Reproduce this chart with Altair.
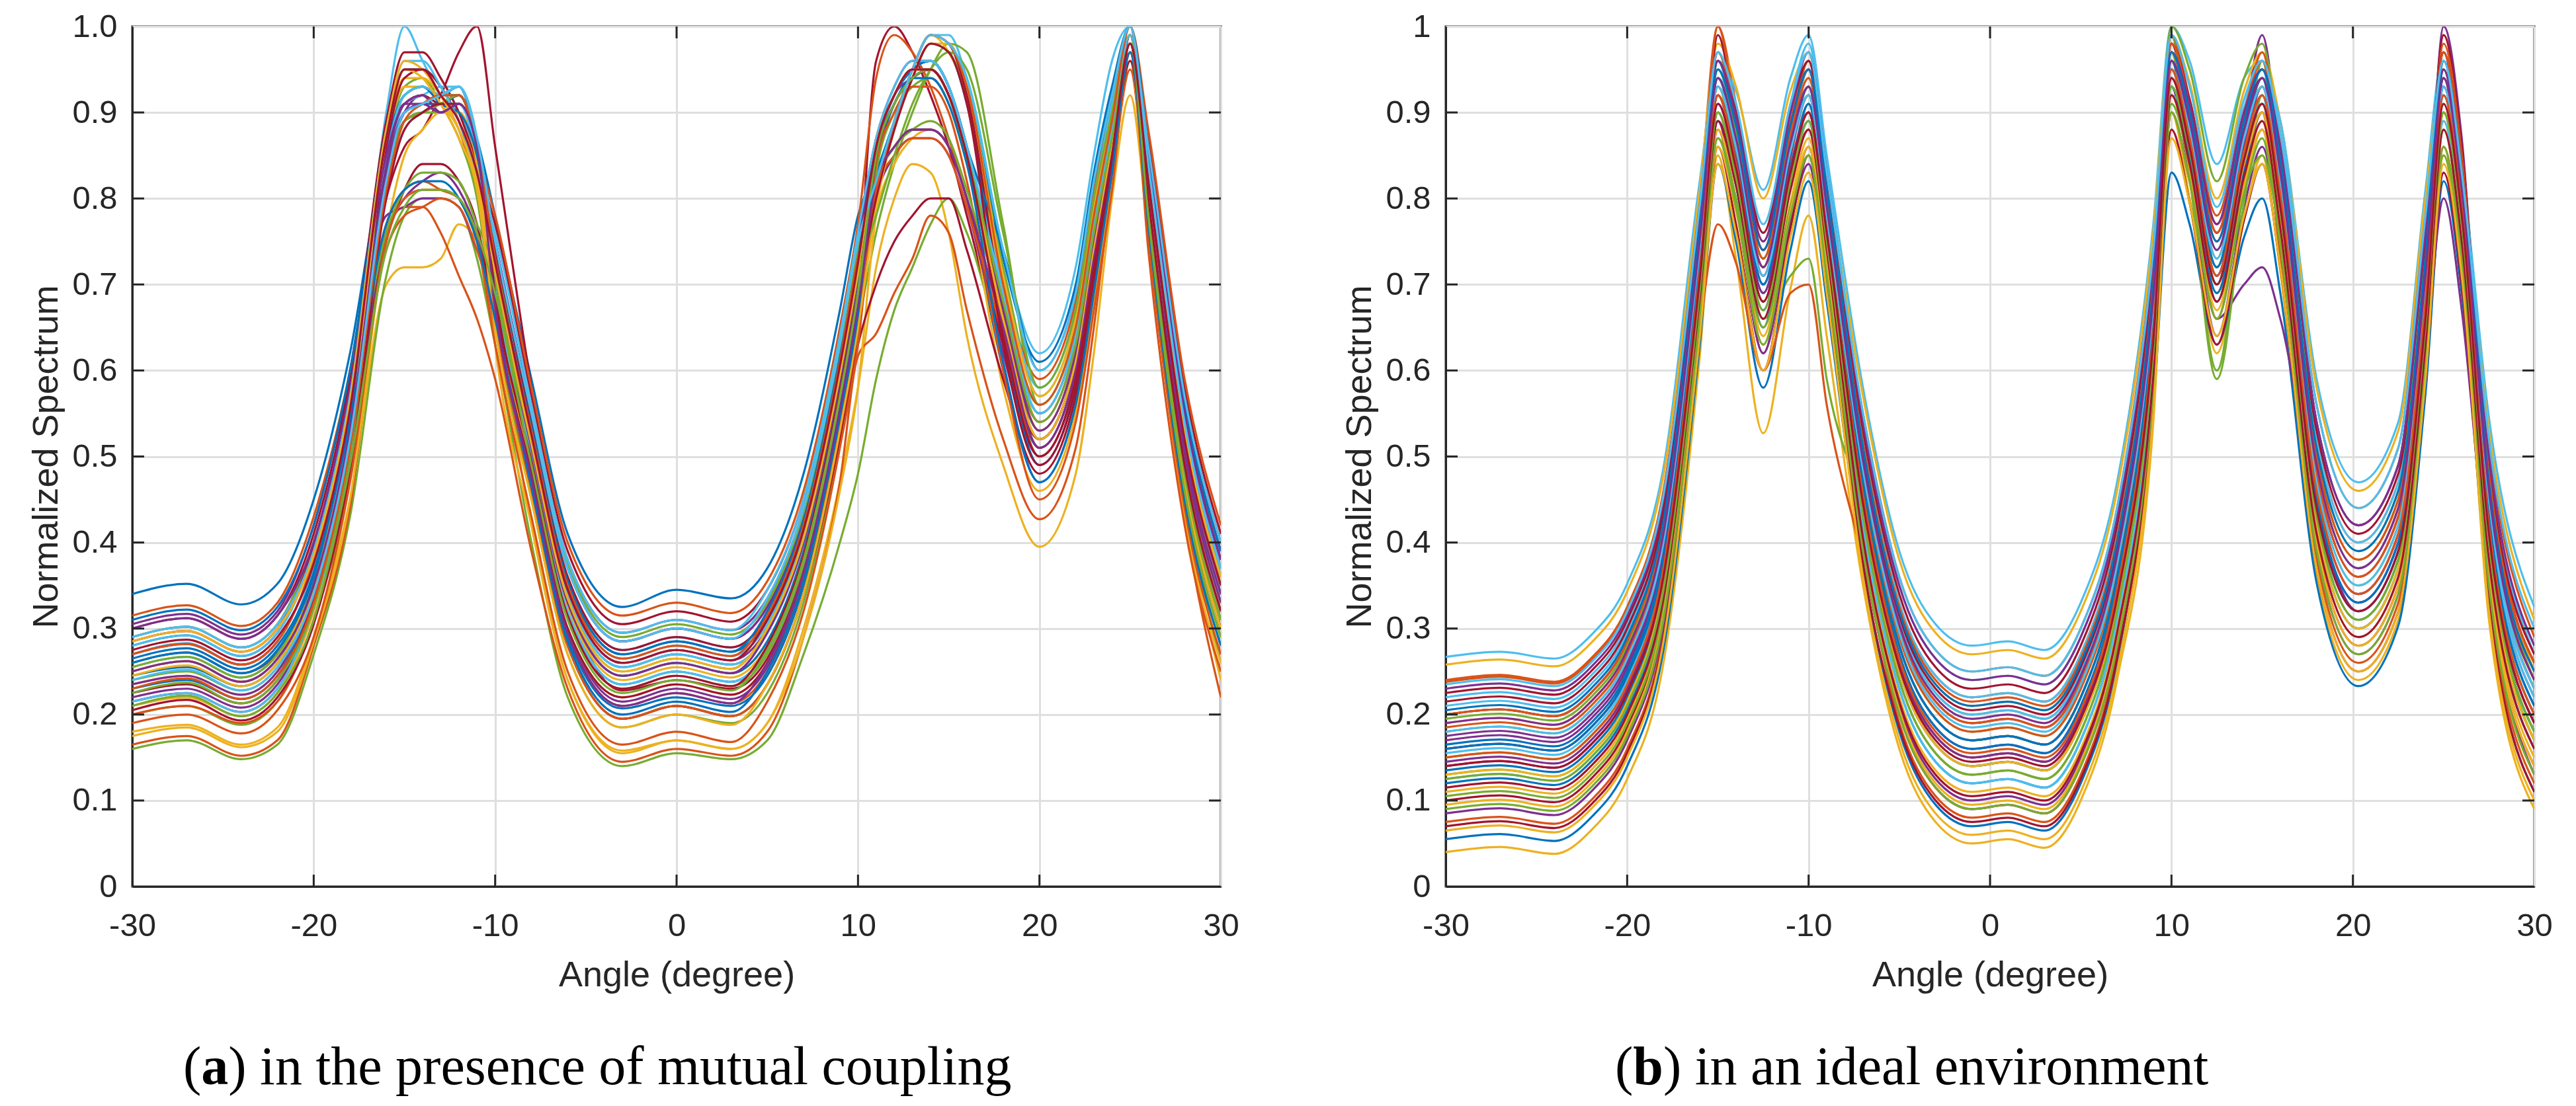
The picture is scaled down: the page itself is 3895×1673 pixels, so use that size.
import altair as alt
import pandas as pd

# ---------------- data ----------------
COLORS = ["#0072BD", "#D95319", "#EDB120", "#7E2F8E", "#77AC30", "#4DBEEE", "#A2142F"]

X_TICKS = [-30, -20, -10, 0, 10, 20, 30]
Y_TICKS = [0, 0.1, 0.2, 0.3, 0.4, 0.5, 0.6, 0.7, 0.8, 0.9, 1.0]
INNER_X = [-20, -10, 0, 10, 20]
INNER_Y = [0.1, 0.2, 0.3, 0.4, 0.5, 0.6, 0.7, 0.8, 0.9]

CAPTION_A = ["(", "a", ") in the presence of mutual coupling"]
CAPTION_B = ["(", "b", ") in an ideal environment"]

# panel (a): in the presence of mutual coupling
ANGLES_A = [-30, -27, -24, -22, -20, -18, -16, -15, -14, -13, -12, -11, -10,
            -8, -6, -3, 0, 3, 5, 7, 9, 10, 11, 12, 13, 14, 15, 16,
            18, 20, 22, 23, 24, 25, 26, 28, 30]
CURVES_A = [
    [.34,.352,.328,.352,.45,.62,  .86,.92,.93,.92,.93,.87,.78,  .59,.41,.325,.345,.335,.37,.48,.67,  .78,.83,.89,.95,.99,.98,.93,  .73,.61,.70,.83,.93,  1.0,.86,.57,.40],
    [.25,.262,.238,.265,.36,.53,  .87,.95,.95,.92,.88,.81,.71,  .52,.34,.255,.27,.258,.295,.40,.59,  .71,.85,.91,.94,.95,.92,.85,  .68,.55,.64,.77,.88,  .98,.81,.50,.33],
    [.18,.188,.165,.185,.29,.45,  .70,.72,.72,.73,.77,.75,.66,  .42,.24,.158,.17,.16,.19,.30,.47,  .58,.72,.80,.84,.83,.76,.64,  .49,.395,.48,.62,.80,  .92,.76,.44,.24],
    [.29,.302,.278,.305,.40,.57,  .84,.90,.92,.90,.90,.85,.75,  .55,.37,.285,.30,.288,.325,.43,.62,  .74,.86,.92,.95,.95,.92,.85,  .65,.52,.61,.74,.86,  .99,.83,.53,.36],
    [.16,.17,.148,.165,.27,.43,  .71,.78,.80,.80,.79,.73,.63,  .40,.22,.14,.155,.148,.17,.27,.40,  .48,.59,.67,.72,.77,.80,.76,  .62,.52,.61,.74,.85,  .97,.80,.46,.26],
    [.27,.283,.258,.285,.38,.56,  .90,1.0,.96,.92,.90,.84,.73,  .53,.35,.265,.28,.268,.305,.41,.60,  .72,.81,.89,.95,.99,.99,.94,  .74,.62,.72,.85,.96,  1.0,.85,.55,.38],
    [.26,.272,.248,.272,.37,.54,  .80,.86,.88,.92,.97,1.0,.86,  .58,.34,.228,.24,.23,.265,.37,.56,  .70,.96,1.0,.97,.92,.86,.78,  .62,.50,.59,.72,.85,  .98,.83,.53,.36],
    [.23,.24,.218,.245,.34,.51,  .82,.89,.90,.91,.91,.85,.67,  .47,.29,.207,.22,.21,.245,.35,.54,  .66,.82,.86,.88,.88,.86,.80,  .60,.47,.56,.69,.83,  .97,.78,.47,.30],
    [.165,.175,.152,.17,.28,.44,  .76,.79,.79,.76,.71,.66,.59,  .39,.23,.145,.16,.152,.18,.29,.47,  .617,.643,.69,.73,.78,.76,.67,  .52,.427,.51,.65,.82,  .95,.77,.43,.22],
    [.21,.22,.198,.225,.32,.49,  .81,.88,.90,.91,.91,.85,.71,  .51,.33,.245,.26,.248,.285,.39,.58,  .70,.85,.91,.94,.95,.92,.85,  .66,.53,.62,.75,.87,  .98,.79,.48,.31],
    [.305,.317,.293,.32,.42,.59,  .78,.79,.80,.80,.79,.74,.70,  .55,.38,.295,.31,.298,.335,.44,.63,  .75,.86,.92,.95,.96,.93,.86,  .64,.50,.59,.72,.85,  .99,.85,.55,.38],
    [.24,.25,.228,.255,.35,.52,  .82,.89,.90,.90,.91,.85,.66,  .46,.28,.195,.21,.198,.235,.34,.53,  .65,.76,.84,.90,.95,.98,.97,  .77,.56,.65,.78,.89,  .99,.76,.45,.28],
    [.255,.267,.243,.27,.365,.54,  .83,.91,.92,.93,.93,.87,.74,  .54,.36,.275,.29,.278,.315,.42,.61,  .73,.81,.89,.95,.99,.98,.93,  .71,.58,.67,.80,.91,  1.0,.82,.52,.35],
    [.30,.312,.288,.315,.41,.59,  .89,.97,.97,.94,.90,.84,.77,  .57,.39,.305,.32,.308,.345,.45,.64,  .76,.87,.93,.96,.96,.93,.86,  .68,.55,.64,.77,.88,  .99,.87,.58,.41],
    [.28,.292,.268,.295,.39,.57,  .88,.95,.95,.93,.89,.82,.71,  .51,.33,.245,.26,.248,.285,.39,.58,  .70,.84,.91,.94,.95,.92,.85,  .64,.51,.60,.73,.86,  .98,.82,.51,.34],
    [.315,.327,.303,.33,.43,.60,  .85,.91,.92,.90,.90,.85,.78,  .58,.40,.315,.33,.318,.355,.46,.65,  .77,.94,.99,.97,.93,.87,.80,  .69,.59,.68,.81,.92,  1.0,.88,.59,.42],
    [.175,.185,.162,.18,.285,.45,  .76,.85,.88,.90,.90,.84,.63,  .42,.24,.155,.17,.16,.19,.29,.46,  .58,.78,.84,.87,.88,.86,.80,  .58,.46,.55,.68,.82,  .96,.76,.43,.26],
    [.22,.23,.208,.235,.33,.50,  .76,.80,.82,.83,.81,.76,.67,  .48,.30,.215,.23,.218,.255,.36,.55,  .67,.80,.85,.87,.87,.85,.79,  .62,.49,.58,.71,.84,  .97,.80,.49,.32],
    [.20,.21,.188,.215,.31,.48,  .85,.93,.94,.91,.87,.80,.65,  .45,.27,.185,.20,.19,.225,.33,.52,  .64,.83,.90,.93,.94,.91,.84,  .66,.53,.62,.75,.87,  .98,.78,.46,.29],
    [.26,.272,.248,.275,.37,.55,  .84,.92,.93,.92,.92,.86,.72,  .52,.34,.255,.27,.258,.295,.40,.59,  .71,.86,.92,.95,.95,.92,.85,  .68,.56,.65,.78,.89,  .99,.80,.50,.33],
    [.215,.225,.203,.23,.325,.49,  .75,.81,.84,.84,.82,.77,.66,  .46,.28,.195,.21,.198,.235,.34,.52,  .63,.70,.75,.78,.80,.80,.74,  .59,.48,.57,.70,.83,  .96,.78,.47,.30],
    [.245,.255,.233,.26,.355,.53,  .83,.90,.91,.92,.92,.86,.70,  .50,.32,.235,.25,.238,.275,.38,.57,  .69,.80,.88,.94,.98,.97,.91,  .66,.50,.59,.72,.85,  .99,.82,.52,.35],
    [.20,.21,.19,.215,.31,.48,  .74,.78,.79,.80,.79,.74,.67,  .47,.295,.21,.225,.213,.25,.355,.54,  .66,.84,.90,.93,.93,.90,.82,  .60,.45,.54,.67,.81,  .97,.78,.47,.30],
    [.235,.245,.223,.25,.345,.52,  .86,.93,.93,.91,.88,.82,.68,  .48,.30,.22,.235,.223,.26,.365,.55,  .67,.80,.89,.95,.99,.97,.92,  .70,.54,.63,.76,.88,  .99,.80,.50,.33],
    [.27,.282,.258,.285,.38,.56,  .84,.91,.91,.90,.91,.86,.75,  .55,.37,.285,.30,.288,.325,.43,.62,  .74,.86,.92,.94,.95,.92,.85,  .66,.52,.61,.74,.86,  .99,.84,.54,.37],
    [.29,.302,.278,.305,.40,.57,  .85,.92,.93,.92,.92,.86,.70,  .50,.315,.23,.245,.233,.27,.375,.56,  .68,.80,.88,.94,.98,.97,.92,  .72,.57,.66,.79,.90,  .99,.79,.48,.31],
    [.215,.225,.203,.23,.325,.49,  .81,.88,.90,.91,.91,.85,.72,  .52,.34,.255,.27,.258,.295,.40,.59,  .71,.85,.92,.95,.96,.93,.86,  .68,.55,.64,.77,.88,  .99,.81,.51,.34],
    [.285,.297,.273,.30,.395,.57,  .85,.91,.92,.91,.92,.86,.68,  .48,.30,.22,.235,.223,.26,.365,.55,  .67,.82,.86,.88,.88,.86,.80,  .63,.52,.61,.74,.86,  .98,.84,.55,.38],
    [.31,.322,.298,.325,.42,.60,  .86,.92,.93,.91,.90,.85,.73,  .53,.355,.27,.285,.273,.31,.415,.60,  .72,.86,.92,.95,.96,.93,.86,  .64,.49,.58,.71,.84,  .98,.84,.54,.37],
    [.27,.282,.258,.285,.38,.56,  .77,.81,.82,.81,.80,.75,.65,  .46,.28,.195,.21,.198,.235,.34,.53,  .65,.85,.91,.94,.95,.92,.85,  .65,.51,.60,.73,.86,  .98,.76,.44,.27],
    [.25,.262,.238,.265,.36,.53,  .87,.94,.94,.92,.89,.83,.70,  .50,.325,.24,.255,.243,.28,.385,.57,  .69,.81,.89,.95,.99,.98,.92,  .69,.53,.62,.75,.87,  .99,.82,.52,.35],
    [.235,.245,.223,.25,.345,.52,  .82,.89,.90,.91,.92,.86,.72,  .52,.345,.26,.275,.263,.30,.405,.59,  .71,.85,.91,.94,.95,.92,.85,  .67,.54,.63,.76,.87,  .98,.80,.50,.33],
    [.255,.267,.243,.27,.365,.54,  .76,.81,.83,.83,.82,.77,.72,  .55,.375,.29,.305,.293,.33,.435,.62,  .74,.82,.86,.88,.89,.87,.81,  .67,.56,.65,.78,.89,  .99,.79,.49,.32],
    [.28,.292,.268,.295,.39,.57,  .85,.92,.93,.92,.93,.87,.70,  .50,.32,.235,.25,.238,.275,.38,.57,  .69,.86,.92,.95,.96,.93,.86,  .70,.58,.67,.80,.91,  1.0,.83,.53,.36],
    [.225,.235,.213,.24,.335,.51,  .86,.94,.95,.93,.89,.83,.74,  .54,.36,.275,.29,.278,.315,.42,.61,  .73,.81,.89,.95,.99,.98,.92,  .67,.51,.60,.73,.85,  .99,.85,.56,.39],
    [.265,.277,.253,.28,.365,.545,  .83,.90,.91,.91,.92,.86,.73,  .535,.355,.27,.285,.273,.32,.425,.615,  .73,.86,.92,.95,.96,.93,.86,  .74,.60,.69,.82,.92,  1.0,.86,.56,.39],
    [.19,.20,.178,.205,.29,.47,  .75,.80,.81,.81,.80,.75,.63,  .43,.25,.165,.18,.168,.215,.32,.51,  .63,.81,.85,.87,.87,.85,.79,  .64,.50,.59,.72,.85,  .97,.74,.42,.25],
    [.245,.257,.233,.26,.345,.525,  .87,.95,.94,.91,.87,.81,.65,  .45,.27,.185,.20,.188,.235,.34,.53,  .65,.79,.88,.94,.98,.98,.93,  .71,.57,.66,.79,.90,  .99,.78,.47,.30],
    [.30,.312,.288,.315,.40,.58,  .85,.91,.92,.90,.91,.86,.71,  .51,.33,.245,.26,.248,.295,.40,.59,  .71,.86,.92,.95,.95,.92,.85,  .67,.53,.62,.75,.87,  .98,.85,.55,.38],
    [.225,.237,.213,.24,.325,.505,  .81,.89,.90,.91,.92,.86,.71,  .515,.335,.25,.265,.253,.30,.405,.595,  .71,.78,.85,.91,.95,.97,.95,  .76,.58,.67,.80,.90,  .99,.79,.48,.31],
    [.29,.302,.278,.305,.39,.57,  .88,.96,.96,.93,.89,.83,.76,  .56,.38,.295,.31,.298,.345,.45,.64,  .76,.87,.93,.96,.96,.93,.86,  .69,.55,.64,.77,.88,  .99,.86,.57,.40],
    [.205,.217,.193,.22,.305,.485,  .80,.88,.90,.91,.91,.86,.69,  .495,.315,.23,.245,.233,.28,.385,.575,  .69,.80,.88,.94,.98,.97,.91,  .63,.49,.58,.71,.84,  .98,.80,.49,.32],
    [.26,.272,.248,.275,.36,.54,  .77,.81,.82,.82,.80,.75,.66,  .465,.285,.20,.215,.203,.25,.355,.545,  .665,.85,.91,.94,.94,.91,.84,  .61,.47,.56,.69,.83,  .97,.77,.45,.28],
    [.23,.242,.218,.245,.33,.51,  .81,.89,.91,.92,.92,.86,.73,  .53,.35,.265,.28,.268,.315,.42,.61,  .73,.81,.89,.95,.99,.98,.93,  .70,.56,.65,.78,.89,  1.0,.82,.52,.35],
    [.285,.297,.273,.30,.385,.565,  .88,.96,.95,.92,.88,.82,.715,  .515,.335,.25,.265,.253,.30,.405,.595,  .715,.86,.92,.95,.95,.92,.85,  .66,.52,.61,.74,.86,  .98,.83,.53,.36],
    [.25,.262,.238,.265,.35,.53,  .83,.90,.91,.90,.91,.86,.675,  .475,.295,.21,.225,.213,.26,.365,.555,  .675,.82,.86,.88,.88,.86,.80,  .65,.51,.60,.73,.85,  .98,.82,.51,.34],
    [.21,.222,.198,.225,.31,.49,  .74,.79,.81,.81,.80,.76,.69,  .49,.31,.225,.24,.228,.275,.38,.57,  .69,.85,.91,.94,.95,.92,.85,  .68,.54,.63,.76,.87,  .98,.78,.46,.29],
    [.24,.252,.228,.255,.34,.52,  .82,.90,.91,.92,.93,.87,.75,  .55,.37,.285,.30,.288,.335,.44,.63,  .75,.82,.89,.95,.99,.98,.94,  .74,.60,.69,.82,.92,  1.0,.84,.54,.37],
    [.275,.287,.263,.29,.375,.555,  .87,.95,.95,.92,.89,.83,.725,  .525,.345,.26,.275,.263,.31,.415,.605,  .725,.86,.92,.95,.95,.92,.85,  .64,.50,.59,.72,.85,  .98,.82,.52,.35],
]

# panel (b): in an ideal environment
ANGLES_B = [-30, -27, -24, -22, -20, -18, -16, -15, -14, -12.5, -11, -10, -9,
            -7, -5, -3, -1, 1, 3, 5, 7, 9, 10, 11, 12.5, 14, 15, 16,
            18, 20.3, 22.5, 24, 25, 26, 27.5, 30]
CURVES_B = [
    [.20,.206,.198,.225,.285,.42,  .76,.93,.855,.70,.84,.90,.76,  .47,.28,.195,.17,.175,.165,.22,.36,.66,  .95,.875,.72,.86,.92,.785,  .42,.30,.37,.64,  .92,.79,.39,.17],
    [.24,.246,.238,.265,.325,.46,  .80,1.0,.91,.74,.875,.93,.79,  .52,.33,.245,.22,.225,.215,.27,.41,.71,  .99,.915,.76,.895,.95,.875,  .52,.40,.47,.74,  .99,.86,.48,.26],
    [.04,.046,.038,.065,.125,.26,  .616,.85,.73,.527,.695,.78,.64,  .35,.16,.075,.05,.055,.045,.10,.24,.54,  .90,.80,.62,.775,.85,.715,  .36,.24,.31,.58,  .85,.72,.31,.09],
    [.17,.176,.168,.195,.255,.39,  .733,.96,.88,.72,.875,.95,.81,  .49,.30,.215,.19,.195,.185,.24,.38,.68,  .92,.85,.70,.885,.99,.84,  .46,.34,.41,.68,  1.0,.87,.42,.20],
    [.13,.136,.128,.155,.215,.35,  .697,.90,.82,.66,.71,.73,.59,  .44,.25,.165,.14,.145,.135,.19,.33,.63,  .97,.825,.60,.82,.96,.805,  .42,.30,.37,.64,  .88,.75,.40,.18],
    [.267,.273,.265,.292,.352,.487,  .82,.96,.925,.81,.94,.99,.85,  .58,.39,.305,.28,.285,.275,.33,.47,.77,  1.0,.96,.84,.94,.96,.89,  .59,.47,.54,.81,  .97,.84,.545,.325],
    [.10,.106,.098,.125,.185,.32,  .67,.88,.79,.62,.78,.86,.72,  .39,.20,.115,.09,.095,.085,.14,.28,.58,  .90,.82,.66,.81,.88,.755,  .40,.28,.35,.62,  .86,.73,.36,.14],
    [.055,.061,.053,.08,.14,.275,  .63,.84,.75,.58,.74,.82,.68,  .37,.18,.095,.07,.075,.065,.12,.26,.56,  .83,.77,.63,.755,.80,.69,  .353,.233,.303,.573,  .82,.69,.33,.11],
    [.075,.081,.073,.10,.16,.295,  .648,.77,.725,.60,.69,.70,.56,  .38,.19,.105,.08,.085,.075,.13,.27,.57,  .95,.855,.68,.83,.90,.73,  .38,.26,.33,.60,  .90,.77,.34,.12],
    [.258,.264,.256,.283,.343,.478,  .81,.98,.93,.80,.925,.97,.83,  .57,.38,.295,.27,.275,.265,.32,.46,.76,  .99,.935,.80,.925,.97,.89,  .58,.46,.53,.80,  .95,.82,.53,.31],
    [.14,.146,.138,.165,.225,.36,  .706,.92,.84,.68,.82,.88,.74,  .46,.27,.185,.16,.165,.155,.21,.35,.65,  .96,.85,.66,.70,.72,.66,  .44,.32,.39,.66,  .96,.83,.41,.19],
    [.18,.186,.178,.205,.265,.40,  .742,.95,.875,.72,.88,.96,.82,  .50,.31,.225,.20,.205,.195,.25,.39,.69,  1.0,.95,.82,.94,.98,.85,  .50,.38,.45,.72,  .90,.77,.46,.24],
    [.22,.226,.218,.245,.305,.44,  .778,.94,.89,.76,.91,.98,.84,  .54,.35,.265,.24,.245,.235,.29,.43,.73,  .93,.865,.72,.87,.94,.89,  .54,.42,.49,.76,  .92,.79,.49,.27],
    [.16,.166,.158,.185,.245,.38,  .724,.99,.885,.70,.85,.92,.78,  .45,.26,.175,.15,.155,.145,.20,.34,.64,  .98,.88,.70,.855,.93,.815,  .48,.36,.43,.70,  .99,.86,.44,.22],
    [.12,.126,.118,.145,.205,.34,  .688,.90,.815,.65,.82,.91,.77,  .42,.23,.145,.12,.125,.115,.17,.31,.61,  .96,.86,.68,.83,.90,.78,  .43,.31,.38,.65,  .94,.81,.38,.16],
    [.238,.244,.236,.263,.323,.458,  .794,.97,.90,.75,.89,.95,.81,  .55,.36,.275,.25,.255,.245,.30,.44,.74,  .97,.915,.78,.905,.95,.87,  .56,.44,.51,.78,  .94,.81,.51,.29],
    [.19,.196,.188,.215,.275,.41,  .751,.92,.865,.73,.875,.94,.80,  .51,.32,.235,.21,.215,.205,.26,.40,.70,  .95,.89,.75,.88,.93,.83,  .50,.38,.45,.72,  .89,.76,.47,.25],
    [.085,.091,.083,.11,.17,.305,  .657,.89,.795,.62,.77,.84,.70,  .40,.21,.125,.10,.105,.095,.15,.29,.59,  .93,.825,.64,.79,.86,.75,  .39,.27,.34,.61,  .80,.67,.35,.13],
    [.15,.156,.148,.175,.235,.37,  .715,.93,.85,.69,.835,.90,.76,  .48,.29,.205,.18,.185,.175,.23,.37,.67,  .99,.83,.59,.795,.92,.81,  .47,.35,.42,.69,  .93,.80,.42,.20],
    [.21,.216,.208,.235,.295,.43,  .769,.95,.88,.73,.87,.93,.79,  .52,.33,.245,.22,.225,.215,.27,.41,.71,  .92,.885,.77,.905,.96,.855,  .52,.40,.47,.74,  .96,.83,.50,.28],
    [.07,.076,.068,.095,.155,.29,  .643,.86,.77,.60,.765,.85,.71,  .375,.185,.10,.075,.08,.07,.125,.265,.565,  .88,.795,.63,.775,.84,.72,  .37,.25,.32,.59,  .83,.70,.33,.11],
    [.165,.171,.163,.19,.25,.385,  .729,.91,.84,.69,.83,.89,.75,  .46,.27,.185,.16,.165,.155,.21,.35,.65,  .94,.865,.71,.85,.91,.80,  .45,.33,.40,.67,  .93,.80,.43,.21],
    [.20,.206,.198,.225,.285,.42,  .76,1.0,.895,.71,.875,.96,.82,  .49,.30,.215,.19,.195,.185,.24,.38,.68,  .97,.89,.73,.89,.97,.845,  .49,.37,.44,.71,  .98,.85,.46,.24],
    [.11,.116,.108,.135,.195,.33,  .679,.88,.80,.64,.795,.87,.73,  .41,.22,.135,.11,.115,.105,.16,.30,.60,  .92,.835,.67,.82,.89,.765,  .41,.29,.36,.63,  .88,.75,.37,.15],
    [.175,.181,.173,.20,.26,.395,  .738,.94,.865,.71,.855,.92,.78,  .47,.28,.195,.17,.175,.165,.22,.36,.66,  .95,.87,.71,.86,.93,.81,  .46,.34,.41,.68,  .94,.81,.45,.23],
    [.105,.111,.103,.13,.19,.325,  .675,.87,.80,.65,.79,.85,.71,  .43,.24,.155,.13,.135,.125,.18,.32,.62,  .91,.84,.69,.81,.85,.755,  .43,.31,.38,.65,  .85,.72,.39,.17],
    [.155,.161,.153,.18,.24,.375,  .72,.96,.87,.70,.865,.95,.81,  .50,.31,.225,.20,.205,.195,.25,.39,.69,  .96,.89,.74,.885,.95,.835,  .49,.37,.44,.71,  .92,.79,.44,.22],
    [.225,.231,.223,.25,.31,.445,  .783,.97,.905,.76,.90,.96,.82,  .53,.34,.255,.23,.235,.225,.28,.42,.72,  .98,.91,.76,.89,.94,.85,  .53,.41,.48,.75,  .97,.84,.49,.27],
    [.135,.141,.133,.16,.22,.355,  .702,.89,.82,.67,.83,.91,.77,  .44,.25,.165,.14,.145,.135,.19,.33,.63,  .93,.85,.69,.84,.91,.79,  .44,.32,.39,.66,  .90,.77,.40,.18],
    [.185,.191,.183,.21,.27,.405,  .747,.93,.865,.72,.87,.94,.80,  .48,.29,.205,.18,.185,.175,.23,.37,.67,  .99,.91,.75,.895,.96,.84,  .48,.36,.43,.70,  .95,.82,.47,.25],
    [.095,.101,.093,.12,.18,.315,  .666,.86,.785,.63,.785,.86,.72,  .395,.205,.12,.095,.10,.09,.145,.285,.585,  .90,.82,.66,.81,.88,.755,  .40,.28,.35,.62,  .86,.73,.36,.14],
    [.145,.151,.143,.17,.23,.365,  .71,.92,.845,.69,.835,.90,.76,  .45,.26,.175,.15,.155,.145,.20,.34,.64,  .94,.86,.70,.84,.90,.79,  .45,.33,.40,.67,  .93,.80,.41,.19],
    [.195,.201,.193,.22,.28,.415,  .756,.95,.88,.73,.865,.92,.78,  .47,.28,.195,.17,.175,.165,.22,.36,.66,  .96,.88,.72,.87,.94,.855,  .51,.39,.46,.73,  .91,.78,.45,.23],
    [.125,.131,.123,.15,.21,.345,  .693,.90,.82,.66,.815,.89,.75,  .42,.23,.145,.12,.125,.115,.17,.31,.61,  .95,.865,.70,.85,.92,.785,  .42,.30,.37,.64,  .89,.76,.42,.20],
    [.215,.221,.213,.24,.30,.435,  .774,.96,.89,.74,.885,.95,.81,  .505,.315,.23,.205,.21,.20,.255,.395,.695,  .98,.915,.77,.90,.95,.86,  .54,.42,.49,.76,  .97,.84,.48,.26],
    [.16,.166,.158,.185,.245,.38,  .724,.94,.86,.70,.855,.93,.79,  .47,.28,.195,.17,.175,.165,.22,.36,.66,  .96,.88,.72,.87,.94,.81,  .45,.33,.40,.67,  .95,.82,.43,.21],
    [.20,.206,.198,.225,.285,.42,  .76,.97,.89,.73,.88,.95,.81,  .515,.325,.24,.215,.22,.21,.265,.405,.705,  .98,.91,.76,.90,.96,.845,  .50,.38,.45,.72,  .97,.84,.48,.26],
    [.13,.136,.128,.155,.215,.35,  .697,.90,.82,.66,.81,.88,.74,  .44,.25,.165,.14,.145,.135,.19,.33,.63,  .94,.86,.70,.84,.90,.775,  .42,.30,.37,.64,  .90,.77,.39,.17],
    [.23,.236,.228,.255,.315,.45,  .787,.96,.895,.75,.90,.97,.83,  .54,.35,.265,.24,.245,.235,.29,.43,.73,  .97,.91,.77,.90,.95,.86,  .54,.42,.49,.76,  .95,.82,.50,.28],
    [.09,.096,.088,.115,.175,.31,  .661,.87,.79,.63,.78,.85,.71,  .39,.20,.115,.09,.095,.085,.14,.28,.58,  .90,.82,.66,.805,.87,.745,  .39,.27,.34,.61,  .86,.73,.35,.13],
    [.18,.186,.178,.205,.265,.40,  .742,.93,.86,.71,.855,.92,.78,  .485,.295,.21,.185,.19,.18,.235,.375,.675,  .95,.88,.73,.87,.93,.815,  .47,.35,.42,.69,  .93,.80,.45,.23],
    [.115,.121,.113,.14,.20,.335,  .684,.89,.815,.66,.81,.88,.74,  .405,.215,.13,.105,.11,.10,.155,.295,.595,  .92,.84,.68,.825,.89,.765,  .41,.29,.36,.63,  .88,.75,.38,.16],
    [.205,.211,.203,.23,.29,.425,  .765,.95,.885,.74,.885,.95,.81,  .51,.32,.235,.21,.215,.205,.26,.40,.70,  .97,.90,.75,.89,.95,.845,  .51,.39,.46,.73,  .96,.83,.47,.25],
    [.15,.156,.148,.175,.235,.37,  .715,.92,.84,.68,.83,.90,.76,  .455,.265,.18,.155,.16,.15,.205,.345,.645,  .95,.87,.71,.855,.92,.805,  .46,.34,.41,.68,  .92,.79,.42,.20],
    [.065,.071,.063,.09,.15,.285,  .639,.84,.76,.60,.755,.83,.69,  .36,.17,.085,.06,.065,.055,.11,.25,.55,  .87,.795,.64,.78,.84,.72,  .37,.25,.32,.59,  .84,.71,.32,.10],
    [.19,.196,.188,.215,.275,.41,  .751,.94,.87,.72,.865,.93,.79,  .495,.305,.22,.195,.20,.19,.245,.385,.685,  .96,.89,.74,.88,.94,.83,  .49,.37,.44,.71,  .94,.81,.46,.24],
    [.125,.131,.123,.15,.21,.345,  .693,.90,.825,.67,.82,.89,.75,  .43,.24,.155,.13,.135,.125,.18,.32,.62,  .93,.855,.70,.845,.91,.785,  .43,.31,.38,.65,  .90,.77,.40,.18],
    [.235,.241,.233,.26,.32,.455,  .792,.97,.91,.77,.91,.97,.83,  .55,.36,.275,.25,.255,.245,.30,.44,.74,  .99,.93,.79,.915,.96,.875,  .56,.44,.51,.78,  .96,.83,.52,.30],
    [.14,.146,.138,.165,.225,.36,  .706,.91,.835,.68,.83,.90,.76,  .445,.255,.17,.145,.15,.14,.195,.335,.635,  .94,.86,.70,.845,.91,.79,  .44,.32,.39,.66,  .91,.78,.41,.19],
]

# ---------------- layout constants ----------------
W, H = 1646, 1301
AXIS_COLOR = "#262626"
GRID_COLOR = "#DFDFDF"
TICK_LEN = 18


def to_long(angles, curves, tag):
    rows = []
    for i, curve in enumerate(curves):
        assert len(curve) == len(angles), f"{tag} row {i}: {len(curve)} vs {len(angles)}"
        for a, v in zip(angles, curve):
            rows.append({"curve": f"c{i:02d}", "angle": a, "value": v})
    return pd.DataFrame(rows)


def make_panel(angles, curves, tag, y_label_expr, caption, cap_x):
    df = to_long(angles, curves, tag)
    xs = alt.Scale(domain=[-30, 30], nice=False, zero=False)
    ys = alt.Scale(domain=[0, 1], nice=False, zero=False)

    x_axis = alt.Axis(values=X_TICKS, title="Angle (degree)", labelExpr="'' + datum.value",
                      grid=True, ticks=False, labelPadding=35, labelFlush=False,
                      titleX=W / 2, titleY=150, titleBaseline="alphabetic", titleAlign="center")
    y_axis = alt.Axis(values=Y_TICKS, title="Normalized Spectrum", labelExpr=y_label_expr,
                      grid=True, ticks=False, labelPadding=23, labelFlush=False,
                      titleX=-114, titleY=H / 2, titleAngle=270,
                      titleBaseline="alphabetic", titleAlign="center")

    lines = alt.Chart(df).mark_line(strokeWidth=3.2, interpolate="monotone", clip=True).encode(
        x=alt.X("angle:Q", scale=xs, axis=x_axis),
        y=alt.Y("value:Q", scale=ys, axis=y_axis),
        color=alt.Color("curve:N", scale=alt.Scale(range=COLORS), legend=None),
    )

    # inward tick marks on all four sides (same field names and axes as the lines)
    xt = pd.DataFrame({"angle": INNER_X})
    yt = pd.DataFrame({"value": INNER_Y})
    rule = dict(color=AXIS_COLOR, strokeWidth=3)
    bottom_t = alt.Chart(xt).mark_rule(**rule).encode(
        x=alt.X("angle:Q", scale=xs, axis=x_axis), y=alt.value(H), y2=alt.value(H - TICK_LEN))
    top_t = alt.Chart(xt).mark_rule(**rule).encode(
        x=alt.X("angle:Q", scale=xs, axis=x_axis), y=alt.value(0), y2=alt.value(TICK_LEN))
    left_t = alt.Chart(yt).mark_rule(**rule).encode(
        y=alt.Y("value:Q", scale=ys, axis=y_axis), x=alt.value(0), x2=alt.value(TICK_LEN))
    right_t = alt.Chart(yt).mark_rule(**rule).encode(
        y=alt.Y("value:Q", scale=ys, axis=y_axis), x=alt.value(W - TICK_LEN), x2=alt.value(W))

    # caption: "(" + bold letter + rest, laid out left to right
    cap_y = 1600
    fs = 82
    paren_w = 0.333 * fs
    bold_w = (0.5 if caption[1] == "a" else 0.556) * fs
    parts = [(caption[0], cap_x, "normal"),
             (caption[1], cap_x + paren_w, "bold"),
             (caption[2], cap_x + paren_w + bold_w, "normal")]
    cap_layers = []
    for txt, px, weight in parts:
        cap_layers.append(
            alt.Chart(pd.DataFrame({"t": [txt]})).mark_text(
                align="left", baseline="alphabetic", font="Liberation Serif",
                fontSize=fs, fontWeight=weight, color="#000000"
            ).encode(x=alt.value(px), y=alt.value(cap_y), text="t:N")
        )

    return alt.layer(lines, bottom_t, top_t, left_t, right_t, *cap_layers).properties(
        width=W, height=H)


panel_a = make_panel(ANGLES_A, CURVES_A, "A",
                     "datum.value == 1 ? '1.0' : '' + datum.value", CAPTION_A, 77)
panel_b = make_panel(ANGLES_B, CURVES_B, "B",
                     "'' + datum.value", CAPTION_B, 256)

chart = alt.hconcat(panel_a, panel_b, spacing=340, bounds="flush").properties(
    padding={"left": 33, "top": 6, "right": 10, "bottom": 0},
    background="#ffffff",
).configure_axis(
    domainColor=AXIS_COLOR, domainWidth=3,
    gridColor=GRID_COLOR, gridWidth=3, gridOpacity=1,
    labelFont="Liberation Sans", labelFontSize=49, labelColor=AXIS_COLOR,
    titleFont="Liberation Sans", titleFontSize=54, titleFontWeight="normal",
    titleColor=AXIS_COLOR, labelOverlap=False,
).configure_view(stroke=AXIS_COLOR, strokeWidth=3)

chart.save("out.html", embed_options={"renderer": "svg", "actions": False})
